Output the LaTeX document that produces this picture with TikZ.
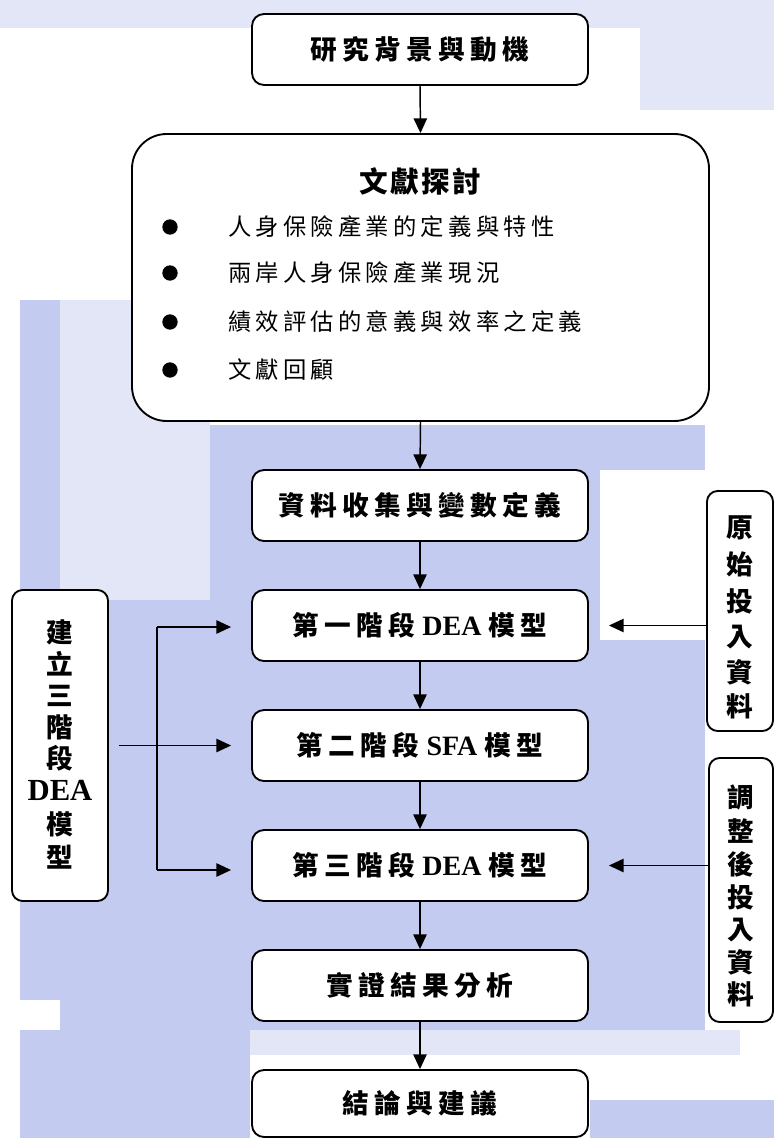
\documentclass[tikz,border=0pt]{standalone}
\usepackage{fontspec}
\setmainfont{Noto Sans CJK TC}
\newfontfamily\latf{Liberation Serif}
\usetikzlibrary{arrows.meta,calc}
\definecolor{bgb}{RGB}{196,203,240}
\definecolor{bgl}{RGB}{226,230,246}
\tikzset{
  box/.style={draw=black, line width=1.4pt, fill=white, rounded corners=9pt, minimum width=336*0.75pt, minimum height=71*0.75pt, inner sep=0pt},
  sidebox/.style={draw=black, line width=1.4pt, fill=white, rounded corners=8pt, inner sep=0pt},
  arr/.style={line width=1.1pt, -{Triangle[length=11pt,width=10pt]}},
  ln/.style={line width=1.1pt},
  ttl/.style={font=\fontsize{20}{22}\selectfont\bfseries\addfontfeature{LetterSpace=20}},
  itm/.style={font=\fontsize{17.5}{20}\selectfont\addfontfeature{LetterSpace=18}, anchor=west, inner sep=0pt},
  vt/.style={font=\fontsize{20}{22}\selectfont\bfseries, inner sep=0pt},
  dot/.style={circle, fill=black, minimum size=11.5pt, inner sep=0pt}
}
\newcommand{\lw}[1]{{\latf\addfontfeature{LetterSpace=0}\fontsize{21}{22}\selectfont\ #1\ }}
\begin{document}
\begin{tikzpicture}[x=0.75pt,y=-0.75pt]
\useasboundingbox (0,0) rectangle (774,1138);
% watermark background (approximation)
\fill[bgl] (0,0) rectangle (774,28);
\fill[bgl] (640,28) rectangle (774,110);
\fill[bgl] (60,300) rectangle (210,600);
\fill[bgb] (20,300) rectangle (60,1000);
\fill[bgb] (210,425) rectangle (705,1030);
\fill[bgb] (60,600) rectangle (210,1030);
\fill[white] (600,470) rectangle (705,640);
\fill[bgb] (20,1030) rectangle (250,1138);
\fill[bgl] (250,1030) rectangle (740,1055);
\fill[bgb] (590,1100) rectangle (774,1138);
% main boxes
\node[box] (b1) at (420,49.5) {};
\node[ttl] at (420,49.5) {研究背景與動機};
\node[box, rounded corners=26pt, minimum width=577*0.75pt, minimum height=287*0.75pt] (b2) at (420.5,277.5) {};
\node[font=\fontsize{21.5}{23}\selectfont\bfseries\addfontfeature{LetterSpace=8}] (h2) at (420,181) {文獻探討};
\node[dot] (d1) at (170,227) {};
\node[dot] (d2) at (170,273) {};
\node[dot] (d3) at (170,322) {};
\node[dot] (d4) at (170,370) {};
\node[itm] (i1) at (228,227) {人身保險產業的定義與特性};
\node[itm] (i2) at (228,273) {兩岸人身保險產業現況};
\node[itm] (i3) at (228,322) {績效評估的意義與效率之定義};
\node[itm] (i4) at (228,370) {文獻回顧};
\node[box] (b3) at (420,505.5) {};
\node[ttl] at (420,505.5) {資料收集與變數定義};
\node[box] (b4) at (420,625.5) {};
\node[ttl] at (420,625.5) {第一階段\lw{DEA}模型};
\node[box] (b5) at (420,745.5) {};
\node[ttl] at (420,745.5) {第二階段\lw{SFA}模型};
\node[box] (b6) at (420,865.5) {};
\node[ttl] at (420,865.5) {第三階段\lw{DEA}模型};
\node[box] (b7) at (420,985.5) {};
\node[ttl] at (420,985.5) {實證結果分析};
\node[box, minimum height=67*0.75pt] (b8) at (420,1103.5) {};
\node[ttl] at (420,1103.5) {結論與建議};
% left box
\node[sidebox, minimum width=96*0.75pt, minimum height=311*0.75pt] (lb) at (60,745.5) {};
\node[vt] at (60,632) {建};
\node[vt] at (60,664) {立};
\node[vt] at (60,696) {三};
\node[vt] at (60,727) {階};
\node[vt] at (60,758) {段};
\node[font=\latf\fontsize{23}{24}\selectfont\bfseries, inner sep=0pt] at (60,790) {DEA};
\node[vt] at (60,824) {模};
\node[vt] at (60,857) {型};
% right boxes
\node[sidebox, minimum width=66*0.75pt, minimum height=240*0.75pt] (rb1) at (740,611) {};
\node[vt] at (740,528) {原};
\node[vt] at (740,564) {始};
\node[vt] at (740,601) {投};
\node[vt] at (740,637) {入};
\node[vt] at (740,672) {資};
\node[vt] at (740,706) {料};
\node[sidebox, minimum width=64*0.75pt, minimum height=264*0.75pt] (rb2) at (741,890) {};
\node[vt] at (741,797) {調};
\node[vt] at (741,831) {整};
\node[vt] at (741,864) {後};
\node[vt] at (741,897) {投};
\node[vt] at (741,930) {入};
\node[vt] at (741,962) {資};
\node[vt] at (741,994) {料};
% main flow arrows
\draw[arr] (b1.south) -- (b2.north);
\draw[arr] (b2.south) -- (b3.north);
\draw[arr] (b3.south) -- (b4.north);
\draw[arr] (b4.south) -- (b5.north);
\draw[arr] (b5.south) -- (b6.north);
\draw[arr] (b6.south) -- (b7.north);
\draw[arr] (b7.south) -- (b8.north);
% left bracket
\coordinate (j1) at (157,627);
\coordinate (j3) at (157,870);
\draw[ln] (j1) -- (j3);
\draw[arr, shorten >=20*0.75pt] (j1) -- (j1 -| b4.west);
\draw[arr, shorten >=20*0.75pt] (j3) -- (j3 -| b6.west);
\draw[arr, shorten <=10*0.75pt, shorten >=20*0.75pt] (lb.east) -- (b5.west);
% right arrows
\draw[arr, shorten >=20*0.75pt] (rb1.west |- b4) -- (b4.east);
\draw[arr, shorten >=20*0.75pt] (rb2.west |- b6) -- (b6.east);
\end{tikzpicture}
\end{document}
